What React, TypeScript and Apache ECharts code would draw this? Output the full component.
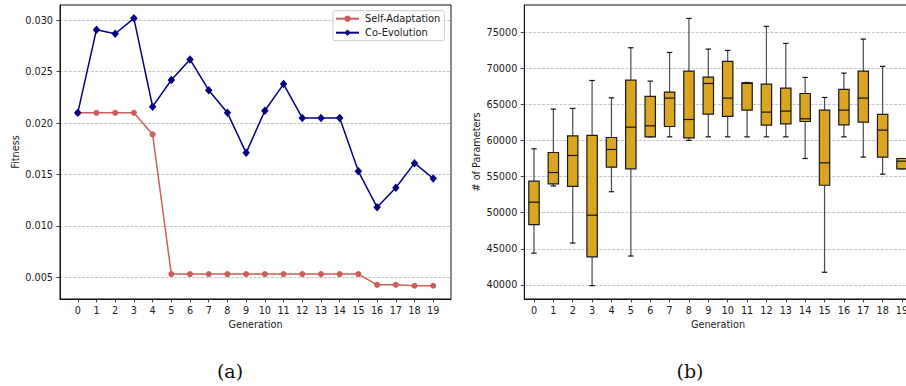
import React, { useEffect, useRef } from "react";
import * as echarts from "echarts";

// Generations shown on both x axes
const generations = [0, 1, 2, 3, 4, 5, 6, 7, 8, 9, 10, 11, 12, 13, 14, 15, 16, 17, 18, 19];

// Best fitness per generation
const selfAdaptation = [
  0.021, 0.021, 0.021, 0.021, 0.0189, 0.0053, 0.0053, 0.0053, 0.0053, 0.0053,
  0.0053, 0.0053, 0.0053, 0.0053, 0.0053, 0.0053, 0.00425, 0.00425, 0.00416, 0.00416,
];
const coEvolution = [
  0.021, 0.0291, 0.0287, 0.0302, 0.0216, 0.0242, 0.0262, 0.0232, 0.021, 0.0171,
  0.0212, 0.0238, 0.0205, 0.0205, 0.0205, 0.0153, 0.0118, 0.0137, 0.0161, 0.0146,
];

// Number of parameters per generation (box plot statistics)
const paramLow = [
  44400, 53700, 45800, 39900, 52900, 44000, 60500, 60500, 60000, 60500,
  60500, 60500, 60500, 60500, 57500, 41750, 60500, 57700, 55330, 56070,
];
const paramQ1 = [
  48350, 54000, 53650, 43880, 56300, 56070, 60500, 61930, 60360, 63640,
  63320, 64200, 62120, 62300, 62620, 53800, 62160, 62530, 57690, 56070,
];
const paramMedian = [
  51450, 55560, 57920, 49650, 58750, 61840, 62030, 65860, 62900, 67890,
  65860, 67900, 63920, 64060, 63000, 56900, 64200, 65860, 61430, 57130,
];
const paramQ3 = [
  54360, 58330, 60640, 60690, 60410, 68350, 66090, 66690, 69600, 68770,
  70940, 67980, 67800, 67240, 66500, 64200, 67060, 69600, 63600, 57500,
];
const paramHigh = [
  58840, 64340, 64430, 68300, 65900, 72830, 68210, 72180, 76890, 72650,
  72460, 68030, 75790, 73430, 68720, 65950, 69320, 74030, 70250, 57500,
];

const fitnessTicks = [0.005, 0.01, 0.015, 0.02, 0.025, 0.03];
const paramTicks = [40000, 45000, 50000, 55000, 60000, 65000, 70000, 75000];

const FONT = "DejaVu Sans";
const TEXT = "#1a1a1a";
const gridLine = { show: true, lineStyle: { color: "#b8b8b8", width: 0.8, type: [3, 1.4] } };

export default function App() {
  const ref = useRef<HTMLDivElement>(null);

  useEffect(() => {
    if (!ref.current) return;
    const chart = echarts.init(ref.current, undefined, { renderer: "svg" });

    const boxData = generations.map((g, i) => [
      g,
      paramLow[i],
      paramQ1[i],
      paramMedian[i],
      paramQ3[i],
      paramHigh[i],
    ]);

    const tickAxisCommon = {
      axisLine: { show: true, onZero: false, lineStyle: { color: "#111", width: 1 } },
      axisTick: { show: true, inside: false, length: 3.5, lineStyle: { color: "#111", width: 0.8 } },
    };

    const xAxisFor = (gridIndex: number, min: number, max: number) => ({
      type: "value",
      gridIndex,
      min,
      max,
      name: "Generation",
      nameLocation: "middle",
      nameGap: 18,
      nameTextStyle: { fontFamily: FONT, fontSize: 9.7, color: TEXT },
      ...tickAxisCommon,
      axisTick: { ...tickAxisCommon.axisTick, customValues: generations },
      axisLabel: {
        customValues: generations,
        margin: 6,
        fontFamily: FONT,
        fontSize: 9.7,
        color: TEXT,
      },
      splitLine: { show: false },
    });

    const option: any = {
      animation: false,
      backgroundColor: "#ffffff",
      grid: [
        {
          left: 60, top: 5, width: 391, height: 294,
          outerBoundsMode: "none",
          show: true, borderColor: "#111", borderWidth: 1, backgroundColor: "transparent",
        },
        {
          left: 524.3, top: 5, width: 387.4, height: 294,
          outerBoundsMode: "none",
          show: true, borderColor: "#111", borderWidth: 1, backgroundColor: "transparent",
        },
      ],
      xAxis: [xAxisFor(0, -0.95, 19.95), xAxisFor(1, -0.5, 19.5)],
      yAxis: [
        {
          type: "value",
          gridIndex: 0,
          min: 0.00287,
          max: 0.0315,
          name: "Fitness",
          nameLocation: "middle",
          nameGap: 40,
          nameTextStyle: { fontFamily: FONT, fontSize: 9.7, color: TEXT },
          ...tickAxisCommon,
          axisTick: { ...tickAxisCommon.axisTick, customValues: fitnessTicks },
          axisLabel: {
            customValues: fitnessTicks,
            margin: 7,
            fontFamily: FONT,
            fontSize: 9.7,
            color: TEXT,
            formatter: (v: number) => v.toFixed(3),
          },
          splitLine: gridLine,
        },
        {
          type: "value",
          gridIndex: 1,
          min: 38050,
          max: 78750,
          name: "# of Parameters",
          nameLocation: "middle",
          nameGap: 43,
          nameTextStyle: { fontFamily: FONT, fontSize: 9.7, color: TEXT },
          ...tickAxisCommon,
          axisTick: { ...tickAxisCommon.axisTick, customValues: paramTicks },
          axisLabel: {
            customValues: paramTicks,
            margin: 7,
            fontFamily: FONT,
            fontSize: 9.7,
            color: TEXT,
            formatter: (v: number) => String(v),
          },
          splitLine: gridLine,
        },
      ],
      legend: {
        data: ["Self-Adaptation", "Co-Evolution"],
        orient: "vertical",
        left: 333,
        top: 10.7,
        padding: [3, 4, 3, 2],
        itemGap: 4,
        itemWidth: 23,
        itemHeight: 8,
        backgroundColor: "rgba(255,255,255,0.8)",
        borderColor: "#cccccc",
        borderWidth: 1,
        borderRadius: 2,
        textStyle: { fontFamily: FONT, fontSize: 9.9, color: TEXT, padding: [0, 0, 0, 1] },
        selectedMode: false,
      },
      series: [
        {
          name: "Self-Adaptation",
          type: "line",
          xAxisIndex: 0,
          yAxisIndex: 0,
          data: generations.map((g, i) => [g, selfAdaptation[i]]),
          symbol: "circle",
          symbolSize: 6,
          color: "#cd5c5c",
          lineStyle: { color: "#cd5c5c", width: 1.5 },
          itemStyle: { color: "#cd5c5c" },
          emphasis: { disabled: true },
          z: 3,
        },
        {
          name: "Co-Evolution",
          type: "line",
          xAxisIndex: 0,
          yAxisIndex: 0,
          data: generations.map((g, i) => [g, coEvolution[i]]),
          symbol: "diamond",
          symbolSize: [7.5, 8.5],
          color: "#000080",
          lineStyle: { color: "#000080", width: 1.5 },
          itemStyle: { color: "#000080" },
          emphasis: { disabled: true },
          z: 4,
        },
        {
          name: "params",
          type: "custom",
          xAxisIndex: 1,
          yAxisIndex: 1,
          data: boxData,
          encode: { x: 0, y: [1, 2, 3, 4, 5] },
          renderItem: (_params: any, api: any) => {
            const g = api.value(0);
            const lo = api.coord([g, api.value(1)]);
            const q1 = api.coord([g, api.value(2)]);
            const med = api.coord([g, api.value(3)]);
            const q3 = api.coord([g, api.value(4)]);
            const hi = api.coord([g, api.value(5)]);
            const cx = lo[0];
            const bw = 10.4;
            const cw = 5.4;
            const whisker = { stroke: "#4a4a4a", lineWidth: 1.2 };
            const cap = { stroke: "#111", lineWidth: 1.2 };
            return {
              type: "group",
              children: [
                { type: "line", shape: { x1: cx, y1: q1[1], x2: cx, y2: lo[1] }, style: whisker },
                { type: "line", shape: { x1: cx, y1: q3[1], x2: cx, y2: hi[1] }, style: whisker },
                { type: "line", shape: { x1: cx - cw / 2, y1: lo[1], x2: cx + cw / 2, y2: lo[1] }, style: cap },
                { type: "line", shape: { x1: cx - cw / 2, y1: hi[1], x2: cx + cw / 2, y2: hi[1] }, style: cap },
                {
                  type: "rect",
                  shape: { x: cx - bw / 2, y: q3[1], width: bw, height: q1[1] - q3[1] },
                  style: { fill: "#daa520", stroke: "#1a1a1a", lineWidth: 1.2 },
                },
                { type: "line", shape: { x1: cx - bw / 2, y1: med[1], x2: cx + bw / 2, y2: med[1] }, style: { stroke: "#111", lineWidth: 1.2 } },
              ],
            };
          },
          z: 3,
        },
      ],
      graphic: [
        {
          type: "text",
          x: 230,
          y: 371,
          style: { text: "(a)", fontFamily: "DejaVu Serif", fontSize: 19, fill: "#111", textAlign: "center", textVerticalAlign: "middle" },
        },
        {
          type: "text",
          x: 690,
          y: 371,
          style: { text: "(b)", fontFamily: "DejaVu Serif", fontSize: 19, fill: "#111", textAlign: "center", textVerticalAlign: "middle" },
        },
      ],
    };

    chart.setOption(option);
    return () => chart.dispose();
  }, []);

  return (
    <div
      ref={ref}
      style={{ position: "fixed", left: 0, top: 0, width: 906, height: 386, overflow: "hidden", background: "#fff" }}
    />
  );
}
